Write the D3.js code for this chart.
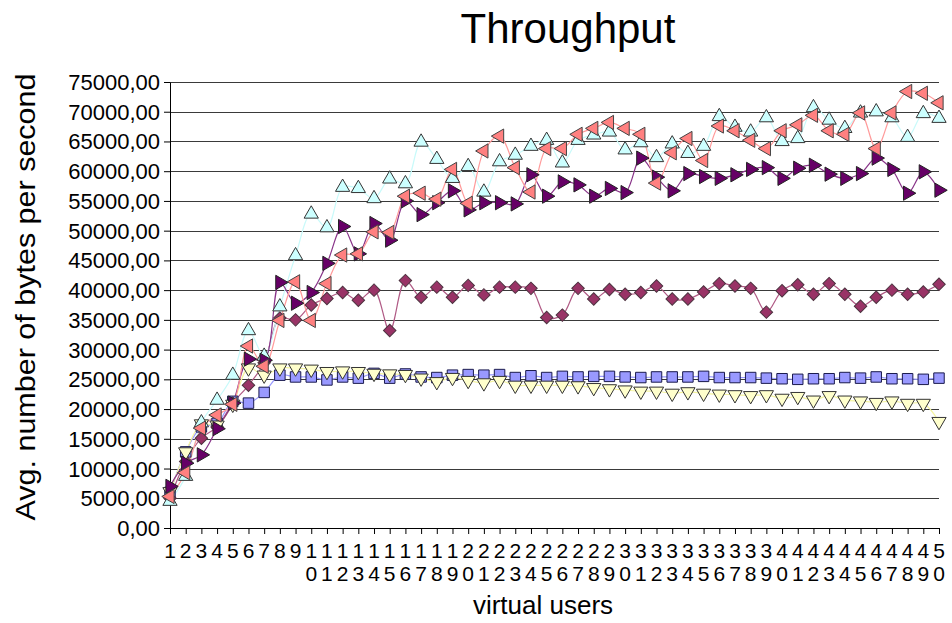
<!DOCTYPE html>
<html>
<head>
<meta charset="utf-8">
<script src="https://cdn.jsdelivr.net/npm/d3@7"></script>
<style>
  body { margin: 0; background: #fff; }
  text { font-family: "Liberation Sans", Arial, sans-serif; fill: #000; }
</style>
</head>
<body>
<div class="chart"></div>
<script>
// throughput per number of virtual users, six test runs

var users = [1, 2, 3, 4, 5, 6, 7, 8, 9, 10,
  11, 12, 13, 14, 15, 16, 17, 18, 19, 20,
  21, 22, 23, 24, 25, 26, 27, 28, 29, 30,
  31, 32, 33, 34, 35, 36, 37, 38, 39, 40,
  41, 42, 43, 44, 45, 46, 47, 48, 49, 50];

var yTicks = [0, 5000, 10000, 15000, 20000, 25000, 30000, 35000, 40000,
  45000, 50000, 55000, 60000, 65000, 70000, 75000];

// squares
var runSquare = [6000, 12800, 17000, 17600, 21300, 21000, 22800, 25700, 25400, 25400,
  24900, 25400, 25200, 26000, 25200, 25900, 25400, 25300, 25700, 25800,
  25700, 25800, 25300, 25600, 25300, 25500, 25400, 25500, 25500, 25400,
  25300, 25400, 25400, 25400, 25500, 25300, 25300, 25300, 25200, 25100,
  25000, 25100, 25100, 25300, 25200, 25400, 25100, 25100, 25000, 25200];

// diamonds
var runDiamond = [5000, 11200, 15100, 17000, 21000, 24000, 27800, 35300, 35000, 37500,
  38600, 39600, 38300, 40000, 33200, 41600, 38800, 40500, 38800, 40800,
  39200, 40500, 40500, 40300, 35400, 35800, 40300, 38500, 40100, 39300,
  39600, 40700, 38500, 38500, 39700, 41100, 40700, 40300, 36300, 39900,
  40900, 39300, 41100, 39300, 37300, 38800, 40000, 39300, 39700, 41000];

// down triangles
var runDown = [6100, 12800, 17500, 17300, 20800, 26900, 25700, 26900, 26900, 26700,
  26300, 26400, 26300, 26000, 25900, 25800, 25200, 24600, 25300, 24800,
  24400, 24800, 24000, 24000, 24000, 24000, 23900, 23600, 23400, 23200,
  23000, 23000, 22650, 22900, 22650, 22500, 22400, 22250, 22400, 21800,
  22100, 21500, 22250, 21500, 21350, 21100, 21350, 20950, 20950, 17900];

// up triangles
var runUp = [4500, 8700, 17700, 21500, 25700, 33200, 28900, 37200, 45800, 52800,
  50500, 57300, 57100, 55400, 58700, 57900, 64900, 62000, 58800, 60800,
  56500, 61600, 62700, 64200, 65200, 61400, 65200, 66100, 66600, 63600,
  64800, 62300, 64600, 63000, 64200, 69200, 67400, 66600, 69000, 65000,
  65500, 70700, 68600, 67200, 69800, 70000, 69000, 65700, 69700, 68900];

// right triangles
var runRight = [7000, 10900, 12300, 16700, 21000, 28400, 28200, 41300, 37800, 39600,
  44500, 50700, 46100, 51200, 48400, 55000, 52700, 54700, 56700, 53500,
  54700, 54700, 54500, 59400, 55800, 58200, 57700, 55800, 57100, 56400,
  62200, 59000, 56700, 59600, 59100, 58800, 59400, 60300, 60600, 58800,
  60500, 61000, 59500, 58800, 59600, 62200, 60300, 56300, 59900, 56800];

// left triangles
var runLeft = [5300, 9300, 16800, 19000, 20800, 30600, 27200, 34900, 41400, 34900,
  41100, 45900, 46100, 49800, 49700, 55800, 56300, 55300, 60300, 54600,
  63400, 65900, 60600, 56500, 63800, 63800, 66200, 67200, 68200, 67200,
  66200, 58000, 63100, 65500, 61800, 67600, 66800, 65200, 63800, 66800,
  67800, 69400, 66800, 66200, 69800, 63800, 69800, 73400, 73100, 71500];

var svgWidth = 952;
var svgHeight = 623;

var margin = { top: 82, right: 13, bottom: 95, left: 170 };
var width = svgWidth - margin.left - margin.right;
var height = svgHeight - margin.top - margin.bottom;

var svg = d3.select(".chart")
  .append("svg")
  .attr("width", svgWidth)
  .attr("height", svgHeight);

var chartGroup = svg.append("g")
  .attr("transform", `translate(${margin.left}, ${margin.top})`);

var xScale = d3.scalePoint()
  .domain(users)
  .range([0, width]);

var yScale = d3.scaleLinear()
  .domain([0, 75000])
  .range([height, 0]);

var locale = d3.formatLocale({ decimal: ",", thousands: "", grouping: [3], currency: ["", ""] });
var fmt = locale.format(".2f");

// horizontal grid lines
chartGroup.append("g")
  .selectAll("line")
  .data(yTicks.filter(d => d > 0))
  .enter()
  .append("line")
  .attr("x1", 0)
  .attr("x2", width)
  .attr("y1", d => Math.round(yScale(d)) + 0.5)
  .attr("y2", d => Math.round(yScale(d)) + 0.5)
  .attr("stroke", "#3a3a3a")
  .attr("stroke-width", 1.2);

// y axis
var leftAxis = d3.axisLeft(yScale)
  .tickValues(yTicks)
  .tickSize(6)
  .tickSizeOuter(0)
  .tickPadding(4)
  .tickFormat(fmt);

var yAxis = chartGroup.append("g").call(leftAxis);
yAxis.select(".domain").attr("stroke", "#000");
yAxis.selectAll(".tick line").attr("stroke", "#000");
yAxis.selectAll(".tick text")
  .attr("font-size", 22)
  .attr("dy", "0.34em")
  .attr("font-family", "Liberation Sans, Arial, sans-serif")
  .attr("fill", "#000");

// x axis
var bottomAxis = d3.axisBottom(xScale)
  .tickSize(6)
  .tickSizeOuter(0)
  .tickFormat("");

var xAxis = chartGroup.append("g")
  .attr("transform", `translate(0, ${height})`)
  .call(bottomAxis);
xAxis.select(".domain").attr("stroke", "#000");
xAxis.selectAll(".tick line").attr("stroke", "#000");

// wrapped category labels, one digit per row
var xLabels = chartGroup.append("g")
  .selectAll("text")
  .data(users)
  .enter()
  .append("text")
  .attr("text-anchor", "middle")
  .attr("font-size", 21);

xLabels.each(function(d) {
  var s = String(d);
  var t = d3.select(this);
  for (var k = 0; k < s.length; k++) {
    t.append("tspan")
      .attr("x", xScale(d))
      .attr("y", height + 30 + k * 23)
      .text(s[k]);
  }
});

var series = [
  { values: runSquare, fill: "#9999FF", line: "#9999FF", stroke: "#1a1a4d", shape: d3.symbolSquare, size: 110, rot: 0 },
  { values: runDiamond, fill: "#993366", line: "#B05A85", stroke: "#4d3340", shape: d3.symbolSquare, size: 78, rot: 45 },
  { values: runDown, fill: "#FFFFCC", line: "#F5F5A0", stroke: "#333", shape: d3.symbolTriangle, size: 88, rot: 180 },
  { values: runUp, fill: "#CCFFFF", line: "#C8FAFA", stroke: "#333", shape: d3.symbolTriangle, size: 88, rot: 0 },
  { values: runRight, fill: "#660066", line: "#883388", stroke: "#222", shape: d3.symbolTriangle, size: 88, rot: 90 },
  { values: runLeft, fill: "#FF8080", line: "#FF9A9A", stroke: "#444", shape: d3.symbolTriangle, size: 88, rot: -90 }
];

var lineGen = d3.line()
  .x((d, i) => xScale(users[i]))
  .y(d => yScale(d))
  .curve(d3.curveCatmullRom.alpha(0.5));

series.forEach(function(s) {
  chartGroup.append("path")
    .datum(s.values)
    .attr("fill", "none")
    .attr("stroke", s.line)
    .attr("stroke-width", 1.2)
    .attr("d", lineGen);
});

series.forEach(function(s) {
  var sym = d3.symbol().type(s.shape).size(s.size);
  chartGroup.append("g")
    .selectAll("path")
    .data(s.values)
    .enter()
    .append("path")
    .attr("d", sym)
    .attr("transform", (d, i) => `translate(${xScale(users[i])}, ${yScale(d)}) rotate(${s.rot})`)
    .attr("fill", s.fill)
    .attr("stroke", s.stroke)
    .attr("stroke-width", 1);
});

// titles
svg.append("text")
  .attr("x", 568)
  .attr("y", 43)
  .attr("text-anchor", "middle")
  .attr("font-size", 42)
  .text("Throughput");

svg.append("text")
  .attr("x", 543)
  .attr("y", 614)
  .attr("text-anchor", "middle")
  .attr("font-size", 26)
  .text("virtual users");

svg.append("text")
  .attr("transform", "translate(35, 297) rotate(-90)")
  .attr("text-anchor", "middle")
  .attr("font-size", 27)
  .attr("textLength", 447)
  .attr("lengthAdjust", "spacingAndGlyphs")
  .text("Avg. number of bytes per second");
</script>
</body>
</html>
